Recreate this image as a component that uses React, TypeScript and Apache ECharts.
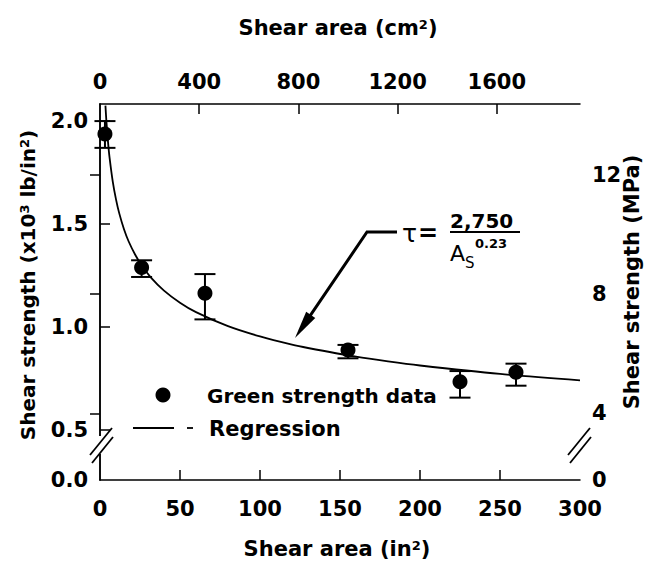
import React, { useEffect, useRef } from "react";
import * as echarts from "echarts";

// ---- data ----
const areaIn2 = [3.1, 26, 65.6, 155, 225, 260];
const strengthKsi = [1.937, 1.289, 1.164, 0.888, 0.734, 0.78];
const errLowKsi = [1.87, 1.243, 1.037, 0.848, 0.657, 0.715];
const errHighKsi = [2.0, 1.324, 1.257, 0.913, 0.786, 0.822];

const regAreaIn2 = [3.4, 4, 5, 6, 8, 10, 12, 15, 18, 22, 26, 32, 40, 50, 60, 80, 100, 120, 130, 160, 180, 200, 250, 300];
const regStrengthKsi = [2.075, 1.999, 1.899, 1.821, 1.705, 1.62, 1.553, 1.475, 1.414, 1.351, 1.3, 1.239, 1.177, 1.118, 1.072, 1.004, 0.954, 0.914, 0.898, 0.856, 0.833, 0.813, 0.772, 0.741];

const bottomTicksIn2 = [0, 50, 100, 150, 200, 250, 300];
const topTicksCm2 = [0, 400, 800, 1200, 1600];
const leftTicksKsi = [0.5, 1.0, 1.5, 2.0];
const rightTicksMPa = [4, 8, 12];

const CM2_PER_IN2 = 6.4516;
const MPA_PER_KSI = 6.894757;
// broken axis: the value shown as "0" sits at this display position
const Y_ZERO_POS = 0.257;
const Y_MAX = 2.083;

const FONT = "DejaVu Sans";

export default function App() {
  const ref = useRef<HTMLDivElement>(null);
  useEffect(() => {
    if (!ref.current) return;
    const chart = echarts.init(ref.current, undefined, { renderer: "svg" });
    const labelStyle = {
      fontFamily: FONT,
      fontWeight: "bold" as const,
      fontSize: 21,
      color: "#000",
    };
    const axisLine = { show: true, lineStyle: { color: "#000", width: 1.5 } };
    const tickStyle = { color: "#000", width: 1.5 };
    const black = "#000";
    const textBase = { fontFamily: FONT, fontWeight: "bold", fill: black };
    const supRich = { sup: { fontSize: 13, fontFamily: FONT, fontWeight: "bold", verticalAlign: "top", lineHeight: 14 } };

    const arrowTip = [295, 338];
    const arrowStart = [367, 232];
    const dx = arrowTip[0] - arrowStart[0];
    const dy = arrowTip[1] - arrowStart[1];
    const len = Math.sqrt(dx * dx + dy * dy);
    const ux = dx / len, uy = dy / len;
    const headLen = 28, headW = 5.5;
    const bx = arrowTip[0] - ux * headLen, by = arrowTip[1] - uy * headLen;

    const option: any = {
      animation: false,
      grid: { left: 100, top: 104, width: 480, height: 376 },
      xAxis: [
        {
          type: "value",
          position: "bottom",
          min: 0,
          max: 300,
          axisLine,
          axisTick: { show: true, inside: true, length: 10, lineStyle: tickStyle, customValues: bottomTicksIn2.slice(1, -1) },
          axisLabel: { ...labelStyle, margin: 18, customValues: bottomTicksIn2, formatter: (v: number) => String(v) },
          splitLine: { show: false },
        },
        {
          type: "value",
          position: "top",
          min: 0,
          max: 300 * CM2_PER_IN2,
          axisLine,
          axisTick: { show: true, inside: true, length: 10, lineStyle: tickStyle, customValues: topTicksCm2.slice(1) },
          axisLabel: { ...labelStyle, margin: 12, customValues: topTicksCm2, formatter: (v: number) => String(v) },
          splitLine: { show: false },
        },
      ],
      yAxis: [
        {
          type: "value",
          position: "left",
          min: Y_ZERO_POS,
          max: Y_MAX,
          axisLine,
          axisTick: { show: true, inside: true, length: 10, lineStyle: tickStyle, customValues: leftTicksKsi },
          axisLabel: {
            ...labelStyle,
            margin: 12,
            customValues: [Y_ZERO_POS, ...leftTicksKsi],
            formatter: (v: number) => (v < 0.4 ? "0.0" : v.toFixed(1)),
          },
          splitLine: { show: false },
        },
        {
          type: "value",
          position: "right",
          min: Y_ZERO_POS,
          max: Y_MAX,
          axisLine,
          axisTick: { show: true, inside: true, length: 10, lineStyle: tickStyle, customValues: rightTicksMPa.map((m) => m / MPA_PER_KSI) },
          axisLabel: {
            ...labelStyle,
            margin: 12,
            customValues: [Y_ZERO_POS, ...rightTicksMPa.map((m) => m / MPA_PER_KSI)],
            formatter: (v: number) => (v < 0.4 ? "0" : String(Math.round(v * MPA_PER_KSI))),
          },
          splitLine: { show: false },
        },
      ],
      series: [
        {
          type: "line",
          xAxisIndex: 0,
          yAxisIndex: 0,
          data: regAreaIn2.map((x, i) => [x, regStrengthKsi[i]]),
          smooth: 0.3,
          showSymbol: false,
          symbol: "none",
          lineStyle: { color: black, width: 1.8 },
          z: 2,
        },
        {
          type: "custom",
          xAxisIndex: 0,
          yAxisIndex: 0,
          data: areaIn2.map((x, i) => [x, errLowKsi[i], errHighKsi[i]]),
          encode: { x: 0, y: [1, 2] },
          renderItem: (params: any, api: any) => {
            const x = api.value(0);
            const lo = api.coord([x, api.value(1)]);
            const hi = api.coord([x, api.value(2)]);
            const w = 10.5;
            const st = { stroke: black, lineWidth: 2 };
            return {
              type: "group",
              children: [
                { type: "line", shape: { x1: lo[0], y1: lo[1], x2: hi[0], y2: hi[1] }, style: st },
                { type: "line", shape: { x1: lo[0] - w, y1: lo[1], x2: lo[0] + w, y2: lo[1] }, style: st },
                { type: "line", shape: { x1: hi[0] - w, y1: hi[1], x2: hi[0] + w, y2: hi[1] }, style: st },
              ],
            };
          },
          z: 3,
        },
        {
          type: "scatter",
          xAxisIndex: 0,
          yAxisIndex: 0,
          data: areaIn2.map((x, i) => [x, strengthKsi[i]]),
          symbol: "circle",
          symbolSize: 15,
          itemStyle: { color: black, opacity: 1 },
          clip: false,
          z: 4,
        },
      ],
      graphic: [
        // axis titles
        {
          type: "text",
          x: 338,
          y: 28,
          style: {
            ...textBase,
            text: "Shear area (cm{sup|2})",
            fontSize: 21,
            align: "center",
            verticalAlign: "middle",
            rich: supRich,
          },
        },
        {
          type: "text",
          x: 337,
          y: 549,
          style: {
            ...textBase,
            text: "Shear area (in{sup|2})",
            fontSize: 21,
            align: "center",
            verticalAlign: "middle",
            rich: supRich,
          },
        },
        {
          type: "text",
          x: 28,
          y: 285,
          rotation: Math.PI / 2,
          style: {
            ...textBase,
            text: "Shear strength (x10{sup|3} lb/in{sup|2})",
            fontSize: 20,
            align: "center",
            verticalAlign: "middle",
            rich: supRich,
          },
        },
        {
          type: "text",
          x: 632,
          y: 282,
          rotation: Math.PI / 2,
          style: {
            ...textBase,
            text: "Shear strength (MPa)",
            fontSize: 21,
            align: "center",
            verticalAlign: "middle",
          },
        },
        // axis breaks
        { type: "rect", shape: { x: 96, y: 436, width: 8, height: 18 }, style: { fill: "#fff" }, z: 10 },
        { type: "line", shape: { x1: 90, y1: 455, x2: 112, y2: 428 }, style: { stroke: black, lineWidth: 1.8 }, z: 11 },
        { type: "line", shape: { x1: 92, y1: 463, x2: 113, y2: 437 }, style: { stroke: black, lineWidth: 1.8 }, z: 11 },
        { type: "rect", shape: { x: 576, y: 436, width: 8, height: 18 }, style: { fill: "#fff" }, z: 10 },
        { type: "line", shape: { x1: 568, y1: 455, x2: 590, y2: 428 }, style: { stroke: black, lineWidth: 1.8 }, z: 11 },
        { type: "line", shape: { x1: 570, y1: 463, x2: 591, y2: 437 }, style: { stroke: black, lineWidth: 1.8 }, z: 11 },
        // legend
        { type: "circle", shape: { cx: 163, cy: 395, r: 7.5 }, style: { fill: black } },
        {
          type: "text",
          x: 207,
          y: 396,
          style: { ...textBase, text: "Green strength data", fontSize: 20, verticalAlign: "middle" },
        },
        { type: "line", shape: { x1: 133, y1: 428, x2: 174, y2: 428 }, style: { stroke: black, lineWidth: 1.8 } },
        { type: "line", shape: { x1: 187, y1: 428, x2: 193, y2: 428 }, style: { stroke: black, lineWidth: 1.8 } },
        {
          type: "text",
          x: 209,
          y: 429,
          style: { ...textBase, text: "Regression", fontSize: 21, verticalAlign: "middle" },
        },
        // arrow
        {
          type: "polyline",
          shape: { points: [[397, 232], arrowStart, [bx + ux * 4, by + uy * 4]] },
          style: { stroke: black, lineWidth: 3, fill: "none" },
        },
        {
          type: "polygon",
          shape: {
            points: [
              arrowTip,
              [bx - uy * headW, by + ux * headW],
              [bx + uy * headW, by - ux * headW],
            ],
          },
          style: { fill: black },
        },
        // formula
        {
          type: "text",
          x: 402,
          y: 233,
          style: { ...textBase, text: "τ", fontSize: 25, verticalAlign: "middle", fontWeight: "normal" },
        },
        {
          type: "text",
          x: 418,
          y: 233,
          style: { ...textBase, text: "=", fontSize: 24, verticalAlign: "middle" },
        },
        {
          type: "text",
          x: 450,
          y: 221,
          style: { ...textBase, text: "2,750", fontSize: 20, verticalAlign: "middle" },
        },
        { type: "rect", shape: { x: 450, y: 231, width: 70, height: 2 }, style: { fill: black } },
        {
          type: "text",
          x: 450,
          y: 253,
          style: { ...textBase, text: "A", fontSize: 22, verticalAlign: "middle", fontWeight: "normal" },
        },
        {
          type: "text",
          x: 465,
          y: 263,
          style: { ...textBase, text: "S", fontSize: 15, verticalAlign: "middle", fontWeight: "normal" },
        },
        {
          type: "text",
          x: 475,
          y: 243,
          style: { ...textBase, text: "0.23", fontSize: 13, verticalAlign: "middle" },
        },
      ],
    };
    chart.setOption(option);
    return () => chart.dispose();
  }, []);
  return (
    <div
      ref={ref}
      style={{ position: "absolute", left: 0, top: 0, width: 652, height: 568, background: "#fff" }}
    />
  );
}
